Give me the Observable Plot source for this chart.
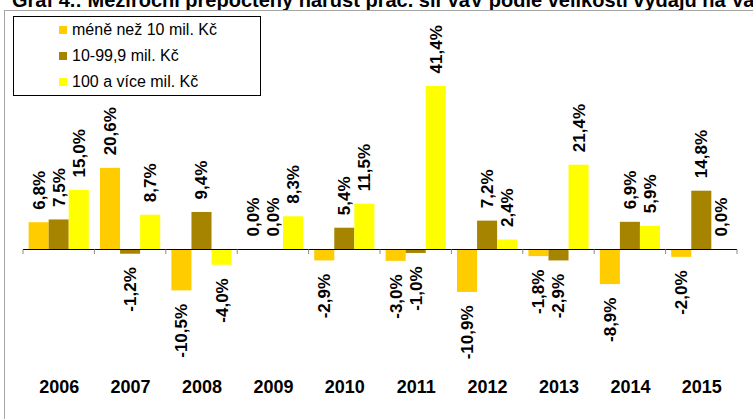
<!DOCTYPE html>
<html><head><meta charset="utf-8">
<script src="https://cdn.jsdelivr.net/npm/d3@7"></script>
<script src="https://cdn.jsdelivr.net/npm/@observablehq/plot@0.6"></script>
<style>
body{margin:0;background:#fff;}
#wrap{position:relative;width:753px;height:419px;overflow:hidden;font-family:"Liberation Sans",Arial,sans-serif;background:#fff}
#title{position:absolute;left:12px;top:-10px;font-weight:bold;font-size:20px;line-height:20px;white-space:nowrap;color:#000}
#frame{position:absolute;left:4px;top:10px;width:760px;height:420px;border-top:1px solid #a6a6a6;border-left:1px solid #a6a6a6}
#chart{position:absolute;left:0;top:0}
#legend{position:absolute;left:13px;top:16px;width:246px;height:78px;border:1px solid #000;background:#fff}
.item{position:absolute;left:45px;height:18px;display:flex;align-items:center;font-size:16px;white-space:nowrap;color:#000}
.sw{display:inline-block;width:8px;height:8px;margin-right:5px}
</style>
</head><body>
<div id="wrap">
  <div id="title">Graf 4.: Meziroční přepočtený nárůst prac. sil VaV podle velikosti výdajů na VaV</div>
  <div id="frame"></div>
  <div id="chart"></div>
  <div id="legend"></div>
</div>
<script>
const years = [2006, 2007, 2008, 2009, 2010, 2011, 2012, 2013, 2014, 2015];
const series = ["méně než 10 mil. Kč", "10-99,9 mil. Kč", "100 a více mil. Kč"];
const small  = [6.8, 20.6, -10.5, 0.0, -2.9, -3.0, -10.9, -1.8, -8.9, -2.0];
const medium = [7.5, -1.2, 9.4, 0.0, 5.4, -1.0, 7.2, -2.9, 6.9, 14.8];
const large  = [15.0, 8.7, -4.0, 8.3, 11.5, 41.4, 2.4, 21.4, 5.9, 0.0];
const colors = ["#FFCC00", "#A68400", "#FFFF00"];

const valuesBySeries = [small, medium, large];
const rows = [];
years.forEach((yr, i) => {
  series.forEach((s, j) => rows.push({year: yr, series: s, value: valuesBySeries[j][i]}));
});
const fmt = v => v.toFixed(1).replace(".", ",") + "%";
const font = "'Liberation Sans', Arial, sans-serif";

const plot = Plot.plot({
  width: 753,
  height: 419,
  marginLeft: 23,
  marginRight: 16,
  marginTop: 71.7,
  marginBottom: 91.2,
  fx: {domain: years, padding: 0, round: false, axis: null, label: null},
  x: {domain: series, paddingInner: 0, paddingOuter: 0.28, round: false, axis: null, label: null},
  y: {domain: [-20, 45], axis: null, label: null},
  color: {domain: series, range: colors},
  style: {background: "transparent", fontFamily: font, overflow: "visible"},
  marks: [
    Plot.barY(rows, {fx: "year", x: "series", y: "value", fill: "series"}),
    Plot.ruleY([0], {stroke: "#000", strokeWidth: 1}),
    Plot.text(rows.filter(d => d.value >= 0), {
      fx: "year", x: "series", y: "value", text: d => fmt(d.value),
      rotate: -90, textAnchor: "start", lineAnchor: "middle", dy: -13,
      fontWeight: "bold", fontSize: 17, fill: "#000"
    }),
    Plot.text(rows.filter(d => d.value < 0), {
      fx: "year", x: "series", y: "value", text: d => fmt(d.value),
      rotate: -90, textAnchor: "end", lineAnchor: "middle", dy: 13,
      fontWeight: "bold", fontSize: 17, fill: "#000"
    }),
    Plot.text(years, {
      fx: d => d, text: d => String(d), frameAnchor: "bottom", lineAnchor: "top",
      dy: 52, fontWeight: "bold", fontSize: 18, fill: "#000"
    })
  ]
});
document.getElementById("chart").appendChild(plot);

// category boundary ticks below the zero line, from the library's scales
const fx = plot.scale("fx");
const ys = plot.scale("y");
const y0 = ys.apply(0);
const bounds = years.map(yr => fx.apply(yr));
bounds.push(fx.apply(years[years.length - 1]) + fx.bandwidth);
const svg = d3.select(plot);
svg.append("g").selectAll("line").data(bounds).join("line")
  .attr("x1", d => d).attr("x2", d => d)
  .attr("y1", y0 + 0.5).attr("y2", y0 + 5)
  .attr("stroke", "#888").attr("stroke-width", 1);

// legend
const legend = document.getElementById("legend");
series.forEach((s, j) => {
  const it = document.createElement("div");
  it.className = "item";
  it.style.top = (3.5 + 26 * j) + "px";
  const sw = document.createElement("span");
  sw.className = "sw";
  sw.style.background = colors[j];
  it.appendChild(sw);
  it.appendChild(document.createTextNode(s));
  legend.appendChild(it);
});
</script>
</body></html>
